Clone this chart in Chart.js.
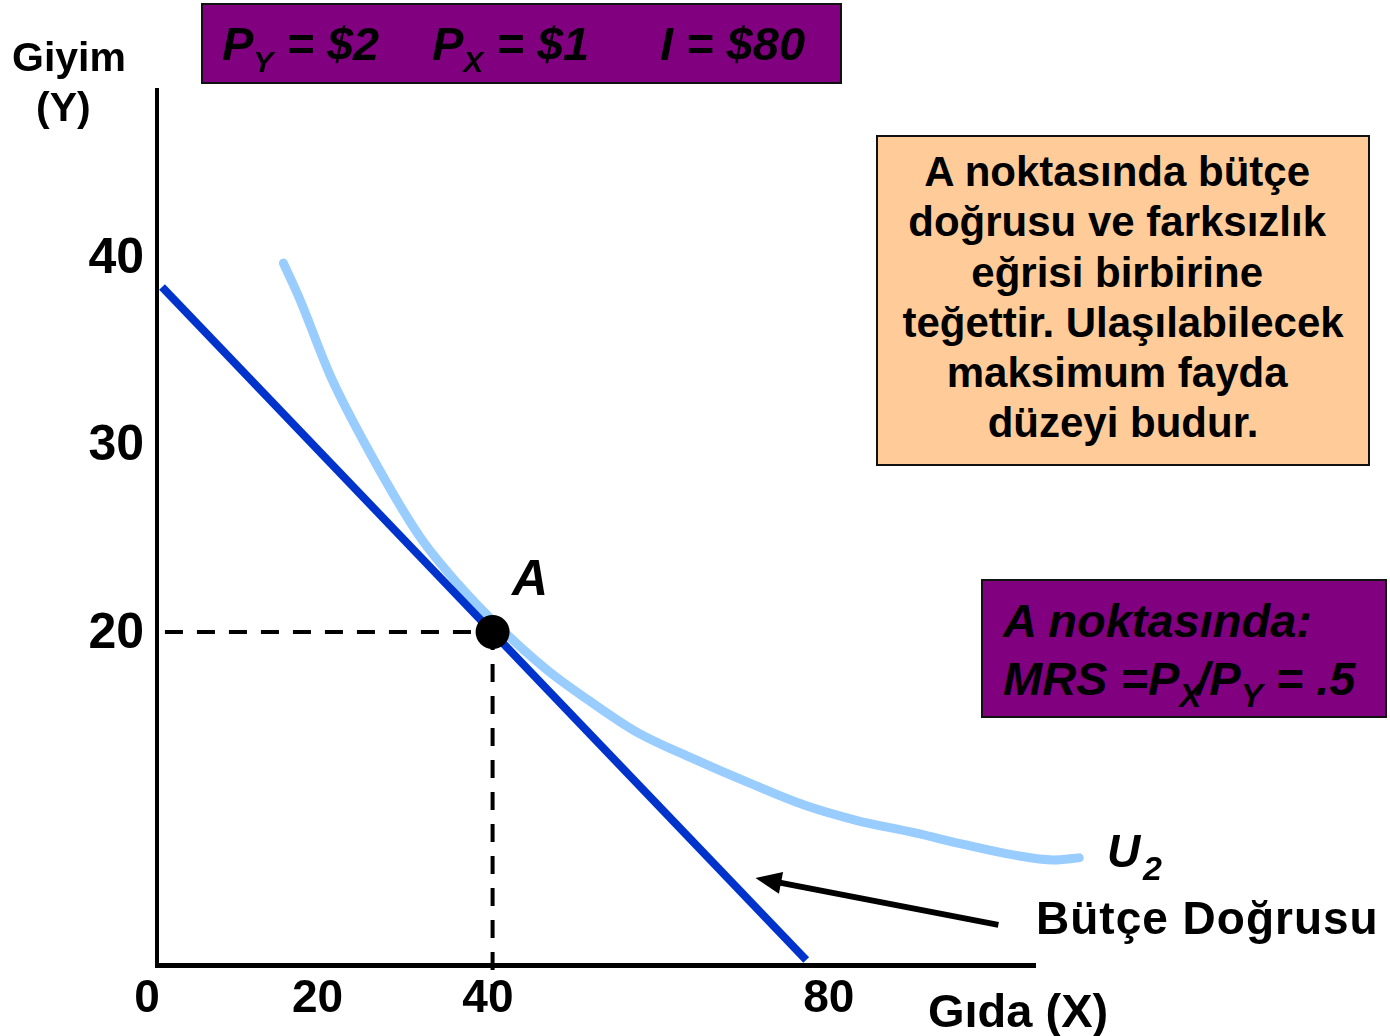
<!DOCTYPE html>
<html>
<head>
<meta charset="utf-8">
<script src="https://cdn.jsdelivr.net/npm/chart.js@4.4.0/dist/chart.umd.min.js"></script>
<style>
html,body{margin:0;padding:0;background:#fff;}
#wrap{position:relative;width:1390px;height:1036px;overflow:hidden;font-family:"Liberation Sans",Arial,Helvetica,sans-serif;font-weight:bold;color:#000;}
#c{position:absolute;left:0;top:0;}
.t{position:absolute;white-space:pre;line-height:1;}
.bi{font-style:italic;}
.box{position:absolute;box-sizing:border-box;border:2px solid #111;}
.sb{font-size:30px;vertical-align:-12px;line-height:1;}
</style>
</head>
<body>
<div id="wrap">
<canvas id="c" width="1390" height="1036"></canvas>

<div class="box" style="left:201px;top:3px;width:641px;height:81px;background:#800080;"></div>
<span class="t bi" style="left:222px;top:20px;font-size:47px;">P<span class="sb">Y</span> = $2</span>
<span class="t bi" style="left:432px;top:20px;font-size:47px;">P<span class="sb">X</span> = $1</span>
<span class="t bi" style="left:660px;top:20px;font-size:47px;">I = $80</span>

<span class="t" style="left:12px;top:37px;font-size:41px;">Giyim</span>
<span class="t" style="left:36px;top:87px;font-size:41px;">(Y)</span>

<div class="box" style="left:876px;top:135px;width:494px;height:331px;background:#ffcc99;"></div>
<div class="t" style="left:876px;top:147px;width:494px;text-align:center;font-size:42px;line-height:50.3px;">A noktasında bütçe 
doğrusu ve farksızlık 
eğrisi birbirine 
teğettir. Ulaşılabilecek
maksimum fayda 
düzeyi budur.</div>

<div class="box" style="left:981px;top:579px;width:406px;height:139px;background:#800080;"></div>
<span class="t bi" style="left:1003px;top:597px;font-size:47px;">A noktasında:</span>
<span class="t bi" style="left:1003px;top:655px;font-size:47px;">MRS =P<span class="sb" style="font-size:33px;margin-right:-5px;">X</span>/P<span class="sb" style="font-size:33px;">Y</span> = .5</span>

<span class="t bi" style="left:512px;top:553px;font-size:50px;">A</span>
<span class="t bi" style="left:1107px;top:828px;font-size:46px;">U</span>
<span class="t bi" style="left:1143px;top:851px;font-size:34px;">2</span>
<span class="t" style="left:1036px;top:895px;font-size:46px;letter-spacing:1px;">Bütçe Doğrusu</span>
<span class="t" style="left:928px;top:987px;font-size:47px;">Gıda (X)</span>
</div>

<script>
// ---- data ----
const xTickValues = [0, 20, 40, 80];
const yTickValues = [20, 30, 40];

const budgetX = [1.76, 77.35];
const budgetY = [38.52, 2.59];

const u2X = [16.0, 17.96, 21.48, 26.17, 32.04, 36.50, 41.20, 46.95, 52.11, 57.63, 63.62, 70.66, 77.11, 83.10, 90.14, 96.13, 101.64, 106.34, 109.39];
const u2Y = [39.8, 37.83, 33.82, 29.66, 25.17, 22.66, 20.42, 18.07, 16.36, 14.71, 13.43, 12.04, 10.86, 10.06, 9.37, 8.73, 8.20, 7.93, 8.04];

const pointAX = [40.55];
const pointAY = [20.1];

const guideHX = [2.1, 40.55];
const guideHY = [20.1, 20.1];
const guideVX = [40.55, 40.55];
const guideVY = [20.1, 0.0];

const arrowX = [99.9, 71.4];   // tail, tip
const arrowY = [4.46, 6.97];

const xRange = [1.17, 104.2];
const yRange = [2.32, 49.04];

const zip = (xs, ys) => xs.map((x, i) => ({x: x, y: ys[i]}));

const arrowPlugin = {
  id: 'arrowPlugin',
  afterDatasetsDraw(chart) {
    const ctx = chart.ctx, sx = chart.scales.x, sy = chart.scales.y;
    const x1 = sx.getPixelForValue(arrowX[0]), y1 = sy.getPixelForValue(arrowY[0]);
    const x2 = sx.getPixelForValue(arrowX[1]), y2 = sy.getPixelForValue(arrowY[1]);
    const ang = Math.atan2(y2 - y1, x2 - x1);
    const headLen = 26, headHalf = 11;
    const bx = x2 - headLen * Math.cos(ang), by = y2 - headLen * Math.sin(ang);
    ctx.save();
    ctx.strokeStyle = '#000';
    ctx.lineWidth = 6;
    ctx.beginPath();
    ctx.moveTo(x1, y1);
    ctx.lineTo(bx + 4 * Math.cos(ang), by + 4 * Math.sin(ang));
    ctx.stroke();
    ctx.fillStyle = '#000';
    ctx.beginPath();
    ctx.moveTo(x2, y2);
    ctx.lineTo(bx + headHalf * Math.sin(ang), by - headHalf * Math.cos(ang));
    ctx.lineTo(bx - headHalf * Math.sin(ang), by + headHalf * Math.cos(ang));
    ctx.closePath();
    ctx.fill();
    ctx.restore();
  }
};

const tickFont = (size) => ({family: '"Liberation Sans", Arial, sans-serif', size: size, weight: 'bold'});

new Chart(document.getElementById('c'), {
  type: 'scatter',
  data: {
    datasets: [
      {
        label: 'A',
        data: zip(pointAX, pointAY),
        pointRadius: 17,
        pointBackgroundColor: '#000',
        pointBorderWidth: 0,
        showLine: false,
        order: 0,
        clip: false
      },
      {
        label: 'Bütçe Doğrusu',
        data: zip(budgetX, budgetY),
        showLine: true,
        borderColor: '#0033cc',
        borderWidth: 8,
        pointRadius: 0,
        borderCapStyle: 'butt',
        order: 1,
        clip: false
      },
      {
        label: 'guideH',
        data: zip(guideHX, guideHY),
        showLine: true,
        borderColor: '#000',
        borderWidth: 4,
        borderDash: [18, 14],
        pointRadius: 0,
        order: 2,
        clip: false
      },
      {
        label: 'guideV',
        data: zip(guideVX, guideVY),
        showLine: true,
        borderColor: '#000',
        borderWidth: 4,
        borderDash: [18, 14],
        pointRadius: 0,
        order: 2,
        clip: false
      },
      {
        label: 'U2',
        data: zip(u2X, u2Y),
        showLine: true,
        borderColor: '#99ccff',
        borderWidth: 9,
        pointRadius: 0,
        cubicInterpolationMode: 'monotone',
        borderCapStyle: 'round',
        borderJoinStyle: 'round',
        order: 3,
        clip: false
      }
    ]
  },
  options: {
    responsive: false,
    animation: false,
    events: [],
    layout: {padding: {left: 0, top: 90, right: 355, bottom: 0}},
    plugins: {legend: {display: false}, tooltip: {enabled: false}, title: {display: false}},
    scales: {
      x: {
        type: 'linear',
        position: 'bottom',
        bounds: 'data',
        afterDataLimits: (s) => { s.min = xRange[0]; s.max = xRange[1]; },
        grid: {display: false, drawTicks: false},
        border: {display: true, color: '#000', width: 5},
        ticks: {color: '#000', font: tickFont(46), padding: 7, autoSkip: false, maxRotation: 0},
        afterBuildTicks: (s) => { s.ticks = xTickValues.map(v => ({value: v})); },
        afterFit: (s) => { s.height = 71; }
      },
      y: {
        type: 'linear',
        position: 'left',
        bounds: 'data',
        afterDataLimits: (s) => { s.min = yRange[0]; s.max = yRange[1]; },
        grid: {display: false, drawTicks: false},
        border: {display: true, color: '#000', width: 4},
        ticks: {color: '#000', font: tickFont(50), padding: 13, autoSkip: false},
        afterBuildTicks: (s) => { s.ticks = yTickValues.map(v => ({value: v})); },
        afterFit: (s) => { s.width = 157; }
      }
    }
  },
  plugins: [arrowPlugin]
});
</script>
</body>
</html>
